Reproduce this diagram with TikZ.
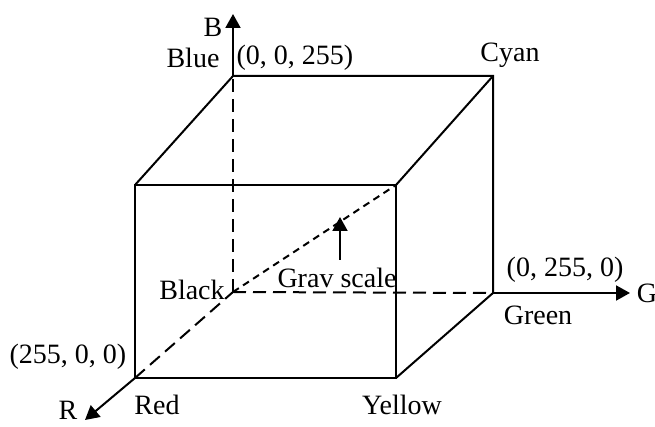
\documentclass[tikz,border=0pt]{standalone}
\usepackage{fontspec}
\setmainfont{Liberation Serif}
\usetikzlibrary{arrows.meta}

\begin{document}
\begin{tikzpicture}[x=0.5pt,y=-0.5pt,line width=1pt,
	font=\fontsize{14}{16}\selectfont,
	axis/.style={-{Triangle[length=7pt,width=7.5pt]}},
	hidden/.style={dash pattern=on 6.5pt off 3.5pt},
	greyline/.style={dash pattern=on 3.5pt off 2.5pt},
	lbl/.style={inner sep=0pt}]
	\useasboundingbox (0,0) rectangle (655,427);
	% corners of the cube
	\coordinate (black) at (233,292);
	\coordinate (blue) at (233,76);
	\coordinate (cyan) at (493,76);
	\coordinate (green) at (493,293);
	\coordinate (red) at (135,378);
	\coordinate (yellow) at (396,378);
	\coordinate (white) at (396,185);
	\coordinate (magenta) at (135,185);
	% axis ends
	\coordinate (btip) at (233,14);
	\coordinate (gtip) at (630,293);
	\coordinate (rtip) at (85,420);
	\coordinate (gsfrom) at (340,260);
	\coordinate (gsto) at (340,217);
	% solid edges
	\draw (red)--(yellow)--(white)--(magenta)--cycle;
	\draw (magenta)--(blue)--(cyan)--(green)--(yellow);
	\draw (white)--(cyan);
	% hidden edges
	\draw[hidden] (red)--(black);
	\draw[hidden] (black)--(blue);
	\draw[hidden] (black)--(green);
	\draw[greyline] (black)--(white);
	% axes
	\draw[axis] (blue)--(btip);
	\draw[axis] (green)--(gtip);
	\draw[axis] (red)--(rtip);
	\draw[axis] (gsfrom)--(gsto);
	% labels
	\node[lbl] (lb) at (213,27) {B};
	\node[lbl] (lblue) at (193,58) {Blue};
	\node[lbl] (lblueval) at (295,58) {(0, 0, 255)};
	\node[lbl] (lcyan) at (510,55) {Cyan};
	\node[lbl] (lblack) at (192,290) {Black};
	\node[lbl] (lgrey) at (337,278) {Grav scale};
	\node[lbl] (lgreenval) at (565,270) {(0, 255, 0)};
	\node[lbl] (lg) at (647,293) {G};
	\node[lbl] (lgreen) at (538,315) {Green};
	\node[lbl] (lredval) at (68,357) {(255, 0, 0)};
	\node[lbl] (lr) at (68,410) {R};
	\node[lbl] (lred) at (157,405) {Red};
	\node[lbl] (lyellow) at (402,405) {Yellow};
\end{tikzpicture}
\end{document}
